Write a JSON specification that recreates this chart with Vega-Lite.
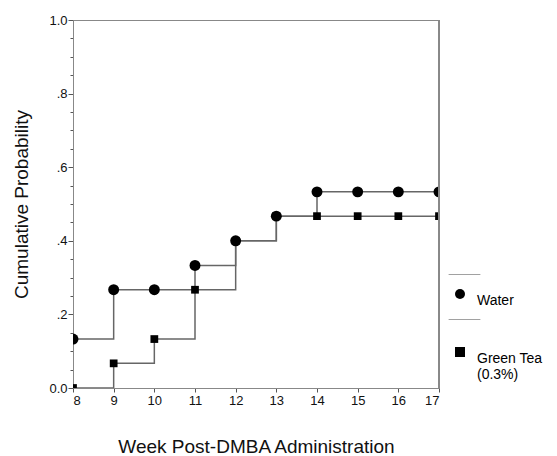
{
  "$schema": "https://vega.github.io/schema/vega-lite/v6.json",
  "autosize": "none",
  "width": 366,
  "height": 368,
  "padding": {"left": 73, "top": 20, "right": 118, "bottom": 68},
  "background": "white",
  "config": {
    "font": "Liberation Sans",
    "view": {"stroke": "#888", "strokeWidth": 1},
    "axis": {"labelFont": "Liberation Sans", "titleFont": "Liberation Sans", "labelColor": "#111", "titleColor": "#111", "domainColor": "#888", "tickColor": "#555", "grid": false, "titleFontWeight": "normal"}
  },
  "data": {
    "values": [
      {"week": 8, "p": 0.133, "group": "Water"},
      {"week": 9, "p": 0.267, "group": "Water"},
      {"week": 10, "p": 0.267, "group": "Water"},
      {"week": 11, "p": 0.333, "group": "Water"},
      {"week": 12, "p": 0.4, "group": "Water"},
      {"week": 13, "p": 0.467, "group": "Water"},
      {"week": 14, "p": 0.533, "group": "Water"},
      {"week": 15, "p": 0.533, "group": "Water"},
      {"week": 16, "p": 0.533, "group": "Water"},
      {"week": 17, "p": 0.533, "group": "Water"},
      {"week": 8, "p": 0.0, "group": "Green Tea (0.3%)"},
      {"week": 9, "p": 0.067, "group": "Green Tea (0.3%)"},
      {"week": 10, "p": 0.133, "group": "Green Tea (0.3%)"},
      {"week": 11, "p": 0.267, "group": "Green Tea (0.3%)"},
      {"week": 12, "p": 0.4, "group": "Green Tea (0.3%)"},
      {"week": 13, "p": 0.467, "group": "Green Tea (0.3%)"},
      {"week": 14, "p": 0.467, "group": "Green Tea (0.3%)"},
      {"week": 15, "p": 0.467, "group": "Green Tea (0.3%)"},
      {"week": 16, "p": 0.467, "group": "Green Tea (0.3%)"},
      {"week": 17, "p": 0.467, "group": "Green Tea (0.3%)"}
    ]
  },
  "encoding": {
    "x": {
      "field": "week", "type": "quantitative",
      "scale": {"domain": [8, 17], "nice": false, "zero": false},
      "axis": {"values": [8, 9, 10, 11, 12, 13, 14, 15, 16, 17], "title": "Week Post-DMBA Administration", "titleFontSize": 19, "titlePadding": 30, "labelFontSize": 13, "tickSize": 4, "labelPadding": 2}
    },
    "y": {
      "field": "p", "type": "quantitative",
      "scale": {"domain": [0, 1], "nice": false},
      "axis": {"values": [0, 0.05, 0.1, 0.15, 0.2, 0.25, 0.3, 0.35, 0.4, 0.45, 0.5, 0.55, 0.6, 0.65, 0.7, 0.75, 0.8, 0.85, 0.9, 0.95, 1], "title": "Cumulative Probability", "titleFontSize": 19, "titlePadding": 17, "labelFontSize": 13, "labelPadding": 1,
        "tickSize": {"condition": {"test": "abs(datum.value * 5 - round(datum.value * 5)) < 0.001", "value": 5}, "value": 3},
        "labelExpr": "abs(datum.value * 5 - round(datum.value * 5)) > 0.001 ? '' : datum.value == 0 ? '0.0' : datum.value == 1 ? '1.0' : replace(format(datum.value, '.1f'), '0.', '.')"}
    }
  },
  "layer": [
    {
      "mark": {"type": "line", "interpolate": "step-after", "color": "#666", "strokeWidth": 1.5, "clip": true},
      "encoding": {
        "strokeDash": {
          "field": "group", "type": "nominal",
          "scale": {"range": [[1, 0], [1, 0]]},
          "legend": {
            "title": null, "orient": "none", "legendX": 375, "legendY": 238,
            "symbolType": "stroke", "symbolSize": 1000, "symbolStrokeColor": "#888", "symbolStrokeWidth": 1,
            "labelExpr": "''", "labelFontSize": 1, "rowPadding": 26
          }
        }
      }
    },
    {
      "mark": {"type": "point", "filled": true, "opacity": 1, "clip": true},
      "encoding": {
        "shape": {
          "field": "group", "type": "nominal",
          "scale": {"domain": ["Water", "Green Tea (0.3%)"], "range": ["circle", "square"]},
          "legend": {
            "title": null, "orient": "none", "legendX": 380, "legendY": 267,
            "labelFontSize": 14, "labelBaseline": "top", "symbolFillColor": "black", "symbolStrokeColor": "black",
            "symbolSize": 100, "rowPadding": 36, "labelOffset": 10,
            "labelExpr": "datum.label == 'Green Tea (0.3%)' ? ['Green Tea', '(0.3%)'] : datum.label"
          }
        },
        "size": {"condition": {"test": "datum.group == 'Water'", "value": 120}, "value": 60},
        "color": {"value": "black"}
      }
    },
    {
      "mark": {"type": "rule", "color": "#888", "strokeWidth": 1},
      "encoding": {"x": {"datum": 17}, "y": {"datum": 0}, "y2": {"datum": 1}}
    }
  ]
}
